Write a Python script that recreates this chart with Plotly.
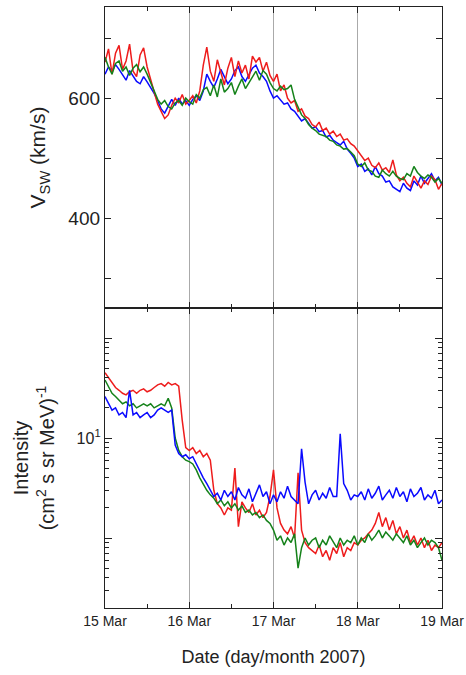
import pandas as pd
import plotly.graph_objects as go

times = pd.date_range("2007-03-15 00:00", periods=97, freq="h")

vsw_blue = [640, 652, 645, 656, 648, 640, 630, 646, 638, 628, 624, 636,
            627, 618, 608, 596, 582, 575, 586, 598, 588, 600, 590, 596,
            588, 598, 604, 596, 612, 640, 628, 618, 632, 648, 636, 624,
            632, 646, 652, 636, 628, 640, 650, 655, 642, 636, 628, 612,
            600, 604, 596, 590, 592, 582, 578, 570, 562, 566, 558, 550,
            552, 544, 546, 535, 538, 530, 526, 522, 528, 515, 508, 500,
            486, 490, 478, 482, 472, 486, 474, 470, 460, 462, 452, 448,
            444, 458, 450, 446, 462, 455, 470, 458, 466, 474, 462, 468, 455]
vsw_red = [660, 682, 640, 675, 688, 648, 662, 690, 645, 636, 672, 684,
           652, 630, 610, 590, 578, 566, 572, 588, 600, 592, 606, 590,
           596, 604, 592, 612, 655, 685, 645, 628, 664, 642, 622, 650,
           668, 636, 662, 642, 655, 632, 670, 660, 668, 645, 660, 638,
           628, 640, 612, 622, 600, 592, 596, 578, 582, 570, 566, 556,
           552, 560, 546, 550, 540, 545, 536, 540, 530, 532, 524, 520,
           512, 505, 496, 500, 488, 484, 492, 480, 484, 476, 497, 472,
           462, 468, 458, 452, 470, 460, 450, 462, 456, 470, 464, 448, 458]
vsw_green = [668, 652, 640, 658, 662, 645, 652, 638, 650, 656, 644, 652,
             640, 626, 614, 598, 590, 596, 586, 582, 592, 596, 588, 600,
             594, 590, 606, 600, 614, 618, 604, 622, 602, 632, 610, 616,
             626, 606, 620, 632, 616, 626, 634, 645, 630, 646, 640, 626,
             616, 612, 620, 614, 616, 622, 598, 584, 572, 566, 556, 550,
             546, 540, 538, 536, 530, 528, 522, 520, 515, 516, 510, 504,
             490, 486, 492, 480, 478, 470, 468, 480, 474, 470, 478, 470,
             466, 464, 474, 470, 486, 476, 470, 466, 472, 468, 460, 466, 458]

int_blue = [26, 22, 19, 20, 17, 18, 16, 30, 17, 18, 16, 17,
            18, 16, 17, 19, 20, 19, 18, 19, 8.5, 7, 6.5, 6.8,
            6.2, 6.5, 5.5, 4.8, 4.0, 3.5, 3.0, 2.6, 2.8, 2.4, 3.0, 2.6,
            2.9, 2.4, 3.2, 2.7, 2.5, 3.1, 2.3, 2.8, 3.4, 2.6, 2.9, 2.2,
            2.7, 2.3, 2.9, 2.5, 3.3, 2.6, 2.4, 2.2, 7.8, 3.6, 2.2, 2.7,
            3.0, 2.4, 2.8, 2.5, 3.2, 2.6, 2.6, 11, 3.5, 3.0, 2.4, 2.7,
            2.6, 2.9, 2.4, 3.1, 2.5, 2.8, 3.3, 2.4, 2.7, 3.0, 2.5, 3.2,
            2.6, 2.9, 2.3, 3.1, 2.6, 2.8, 3.2, 2.4, 2.7, 2.5, 3.0, 2.2, 2.4]
int_green = [38, 33, 28, 26, 24, 22, 23, 21, 22, 20, 21, 22,
             21, 22, 20, 21, 22, 21, 25, 20, 10, 7.5, 6.5, 6.0,
             5.8, 5.5, 4.8, 4.0, 3.4, 3.0, 2.7, 2.5, 2.2, 2.4, 2.1, 2.3,
             2.0, 2.2, 1.9, 2.1, 1.8, 1.9, 1.7, 1.8, 1.6, 1.7, 1.5, 1.4,
             1.2, 0.95, 1.05, 0.85, 1.0, 0.9, 1.1, 0.5, 0.8, 1.0, 0.85, 0.95,
             1.0, 0.8, 0.95, 0.85, 1.05, 0.9, 0.8, 1.0, 0.85, 0.95, 0.9, 1.05,
             0.85, 1.0, 0.9, 1.1, 0.95, 1.05, 1.2, 1.0, 1.15, 1.05, 0.95, 1.1,
             1.0, 0.9, 1.05, 0.85, 0.95, 0.8, 0.9, 1.0, 0.85, 0.95, 0.9, 0.8, 0.6]
int_red = [45, 40, 35, 32, 30, 28, 27, 29, 30, 28, 30, 31,
           29, 30, 32, 34, 35, 33, 36, 34, 35, 33, 15, 8,
           7.5, 8.0, 7.0, 7.5, 6.5, 7.0, 6.0, 3.0, 2.2, 2.0, 1.7, 2.0,
           1.9, 5.0, 1.3, 2.3, 2.0, 1.8, 2.2, 1.7, 1.9, 1.6, 1.8, 2.6,
           4.8, 2.0, 1.4, 1.2, 1.1, 1.3, 1.0, 4.5, 1.2, 0.9, 0.8, 0.75,
           0.7, 0.85, 0.65, 0.75, 0.6, 0.8, 0.7, 0.9, 0.65, 0.8, 0.75, 0.9,
           0.85, 0.95, 1.0, 1.1, 1.2, 1.4, 1.8, 1.3, 1.6, 1.2, 1.5, 1.1,
           1.3, 1.0, 1.2, 0.9, 1.05, 0.85, 1.0, 0.8, 0.95, 0.75, 0.85, 0.8, 0.9]

vsw_ticks = [300, 400, 500, 600, 700]
vsw_ticktext = ["", "400", "", "600", ""]
int_ticks = [1, 10, 100]
int_ticktext = ["", "10<sup>1</sup>", ""]
int_minor = [0.2, 0.3, 0.4, 0.5, 0.6, 0.7, 0.8, 0.9,
             2, 3, 4, 5, 6, 7, 8, 9,
             20, 30, 40, 50, 60, 70, 80, 90, 200]

RED = "#ee1c1c"
GREEN = "#15821a"
BLUE = "#0a0aff"

fig = go.Figure()
for vals, col in [(vsw_blue, BLUE), (vsw_red, RED), (vsw_green, GREEN)]:
    fig.add_trace(go.Scatter(x=times, y=vals, mode="lines", xaxis="x2", yaxis="y2",
                             line=dict(color=col, width=1.5), showlegend=False))
for vals, col in [(int_red, RED), (int_green, GREEN), (int_blue, BLUE)]:
    fig.add_trace(go.Scatter(x=times, y=vals, mode="lines", xaxis="x", yaxis="y",
                             line=dict(color=col, width=1.5), showlegend=False))

split = 300 / 601
axcol = "#222222"
xcommon = dict(range=["2007-03-15", "2007-03-19"], type="date", dtick=86400000,
               tick0="2007-03-15", ticks="inside", ticklen=6, tickwidth=1.2,
               tickcolor=axcol, showline=True, linecolor=axcol, linewidth=1.3,
               mirror="ticks", showgrid=True, gridcolor="#aaaaaa", gridwidth=0.9,
               zeroline=False, automargin=False,
               minor=dict(dtick=43200000, tick0="2007-03-15", ticks="inside",
                          ticklen=4, tickcolor=axcol, showgrid=False))

fig.update_layout(
    width=466, height=675,
    margin=dict(l=105, r=24, t=7, b=67),
    paper_bgcolor="white", plot_bgcolor="white",
    font=dict(family="Liberation Sans, Arial, sans-serif", color="#222222"),
    xaxis=dict(**xcommon, anchor="y", tickformat="%-d %b",
               tickfont=dict(size=14),
               title=dict(text="Date (day/month 2007)", font=dict(size=18), standoff=22)),
    xaxis2=dict(**xcommon, anchor="y2", matches="x", showticklabels=False),
    yaxis=dict(domain=[0, split], type="log", range=[-0.7, 2.3], automargin=False,
               tickmode="array", tickvals=int_ticks, ticktext=int_ticktext,
               ticks="inside", ticklen=7, tickwidth=1.2, tickcolor=axcol,
               showline=True, linecolor=axcol, linewidth=1.3, mirror="ticks",
               showgrid=False, zeroline=False, tickfont=dict(size=16),
               minor=dict(tickmode="array", tickvals=int_minor, ticks="inside",
                          ticklen=4, tickcolor=axcol, showgrid=False),
               title=dict(text="Intensity<br>(cm<sup>2</sup> s sr MeV)<sup>-1</sup>",
                          font=dict(size=20), standoff=16)),
    yaxis2=dict(domain=[split, 1], range=[250, 752], automargin=False,
                tickmode="array", tickvals=vsw_ticks, ticktext=vsw_ticktext,
                ticks="inside", ticklen=6, tickwidth=1.2, tickcolor=axcol,
                showline=True, linecolor=axcol, linewidth=1.3, mirror="ticks",
                showgrid=False, zeroline=False, tickfont=dict(size=19),
                title=dict(text="V<sub>SW</sub> (km/s)", font=dict(size=21), standoff=16)),
)

fig.write_html("out.html", config={"displayModeBar": False},
               post_script="document.body.style.margin='0px';")
